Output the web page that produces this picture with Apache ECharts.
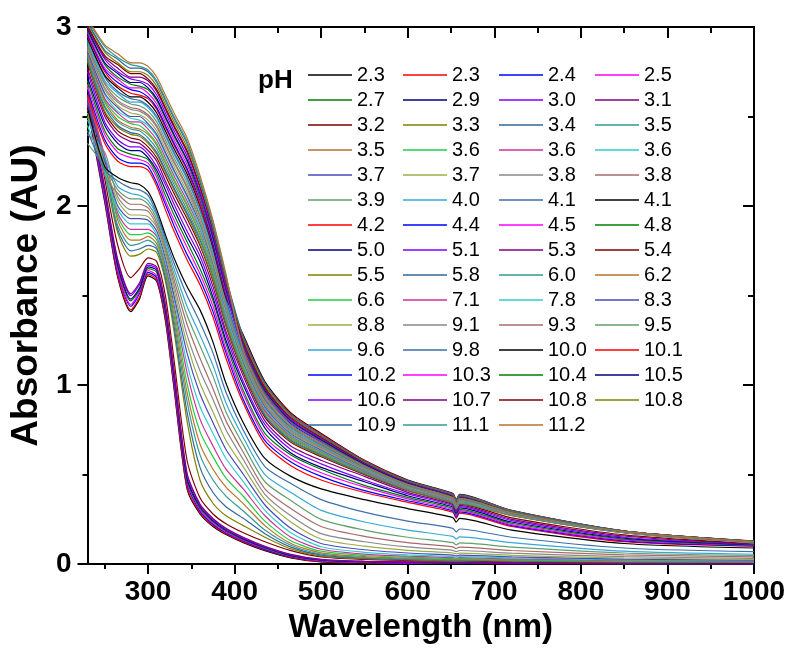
<!DOCTYPE html>
<html><head><meta charset="utf-8">
<script src="https://cdn.jsdelivr.net/npm/echarts@6/dist/echarts.min.js"></script>
<style>html,body{margin:0;padding:0;background:#fff}#c{width:792px;height:649px}</style>
</head><body><div id="c"></div><script>
const wavelength = [230,250,265,280,290,300,310,320,330,345,360,375,390,410,435,465,500,550,600,652,656,660,720,850,1000];
const pHLabels = ['2.3','2.3','2.4','2.5','2.7','2.9','3.0','3.1','3.2','3.3','3.4','3.5','3.5','3.6','3.6','3.6','3.7','3.7','3.8','3.8','3.9','4.0','4.1','4.1','4.2','4.4','4.5','4.8','5.0','5.1','5.3','5.4','5.5','5.8','6.0','6.2','6.6','7.1','7.8','8.3','8.8','9.1','9.3','9.5','9.6','9.8','10.0','10.1','10.2','10.3','10.4','10.5','10.6','10.7','10.8','10.8','10.9','11.1','11.2'];
const palette = ['#000000','#FF0000','#0000FF','#FF00FF','#008000','#000080','#8000FF','#800080','#800000','#808000','#336699','#339999','#B8732A','#22CC44','#CC3399','#33CCCC','#4B4BB8','#9CAC4B','#888888','#A86B6B','#639E6E','#36A8D6','#3D6FA8'];
const xMajorTicks = [300,400,500,600,700,800,900,1000];
const xMinorTicks = [250,350,450,550,650,750,850,950];

const spec00 = [2.55,2.02,1.60,1.41,1.48,1.61,1.58,1.36,0.98,0.42,0.28,0.21,0.165,0.12,0.075,0.035,0.012,0.006,0.004,0.003,0.003,0.003,0.002,0.001,0];
const spec01 = [2.56,2.03,1.61,1.42,1.49,1.62,1.59,1.37,0.99,0.43,0.288,0.216,0.17,0.124,0.079,0.038,0.014,0.007,0.005,0.004,0.004,0.004,0.003,0.002,0.001];
const spec02 = [2.57,2.04,1.63,1.44,1.51,1.63,1.60,1.39,1.01,0.45,0.296,0.223,0.175,0.129,0.082,0.041,0.016,0.009,0.006,0.005,0.005,0.005,0.003,0.002,0.001];
const spec03 = [2.58,2.05,1.64,1.45,1.52,1.64,1.61,1.40,1.02,0.46,0.304,0.229,0.18,0.133,0.086,0.044,0.018,0.010,0.007,0.006,0.006,0.006,0.004,0.003,0.002];
const spec04 = [2.59,2.07,1.66,1.47,1.53,1.65,1.63,1.41,1.04,0.47,0.312,0.236,0.185,0.137,0.089,0.046,0.021,0.012,0.009,0.006,0.006,0.006,0.005,0.003,0.002];
const spec05 = [2.60,2.08,1.67,1.48,1.54,1.66,1.64,1.42,1.05,0.48,0.32,0.242,0.19,0.141,0.093,0.049,0.023,0.013,0.010,0.007,0.007,0.007,0.006,0.004,0.003];
const spec06 = [2.61,2.09,1.69,1.50,1.56,1.67,1.65,1.44,1.07,0.50,0.328,0.249,0.195,0.146,0.096,0.052,0.025,0.015,0.011,0.008,0.008,0.008,0.006,0.004,0.003];
const spec07 = [2.62,2.10,1.70,1.51,1.57,1.68,1.66,1.45,1.08,0.51,0.335,0.255,0.20,0.15,0.10,0.055,0.027,0.016,0.012,0.009,0.009,0.009,0.007,0.005,0.004];
const spec08 = [2.66,2.15,1.78,1.60,1.65,1.71,1.69,1.50,1.14,0.58,0.37,0.28,0.225,0.175,0.125,0.075,0.04,0.026,0.02,0.016,0.016,0.016,0.013,0.009,0.007];
const spec09 = [2.68,2.20,1.85,1.72,1.73,1.76,1.74,1.58,1.30,0.80,0.47,0.34,0.27,0.215,0.15,0.085,0.045,0.03,0.024,0.02,0.019,0.02,0.017,0.012,0.01];
const spec10 = [2.62,2.24,1.87,1.75,1.76,1.78,1.76,1.60,1.33,0.85,0.54,0.40,0.32,0.256,0.17,0.095,0.05,0.033,0.026,0.022,0.021,0.022,0.018,0.013,0.011];
const spec11 = [2.55,2.18,1.89,1.78,1.79,1.81,1.77,1.62,1.36,0.91,0.61,0.47,0.38,0.297,0.19,0.105,0.056,0.037,0.029,0.024,0.023,0.024,0.02,0.014,0.012];
const spec12 = [2.66,2.26,1.92,1.81,1.81,1.83,1.79,1.64,1.39,0.96,0.67,0.53,0.43,0.338,0.215,0.115,0.063,0.042,0.033,0.027,0.026,0.027,0.022,0.016,0.013];
const spec13 = [2.50,2.21,1.94,1.84,1.84,1.85,1.81,1.65,1.42,1.01,0.74,0.60,0.48,0.379,0.24,0.13,0.072,0.048,0.038,0.031,0.029,0.031,0.025,0.018,0.015];
const spec14 = [2.60,2.28,1.96,1.87,1.87,1.87,1.83,1.67,1.45,1.07,0.81,0.66,0.53,0.42,0.27,0.15,0.083,0.056,0.044,0.036,0.034,0.036,0.029,0.021,0.017];
const spec15 = [2.45,2.19,1.98,1.90,1.90,1.90,1.84,1.69,1.48,1.12,0.88,0.73,0.59,0.461,0.30,0.175,0.097,0.066,0.052,0.042,0.039,0.042,0.034,0.024,0.019];
const spec16 = [2.58,2.25,2.00,1.93,1.93,1.92,1.86,1.71,1.50,1.18,0.95,0.79,0.64,0.502,0.33,0.20,0.115,0.08,0.062,0.05,0.046,0.05,0.04,0.028,0.022];
const spec17 = [2.52,2.23,2.03,1.95,1.95,1.94,1.88,1.73,1.53,1.23,1.01,0.85,0.69,0.543,0.36,0.235,0.14,0.10,0.077,0.062,0.057,0.061,0.049,0.034,0.026];
const spec18 = [2.40,2.30,2.05,1.98,1.98,1.97,1.89,1.75,1.56,1.28,1.08,0.92,0.75,0.584,0.39,0.27,0.17,0.125,0.096,0.077,0.07,0.076,0.061,0.042,0.032];
const spec19 = [2.55,2.17,2.07,2.01,2.01,1.99,1.91,1.77,1.59,1.34,1.15,0.98,0.80,0.625,0.42,0.31,0.21,0.155,0.12,0.096,0.087,0.095,0.076,0.052,0.04];
const spec20 = [2.35,2.22,2.09,2.04,2.04,2.01,1.93,1.78,1.62,1.39,1.22,1.05,0.85,0.666,0.46,0.355,0.25,0.19,0.15,0.12,0.108,0.118,0.095,0.062,0.048];
const spec21 = [2.48,2.27,2.11,2.07,2.06,2.03,1.95,1.80,1.65,1.44,1.28,1.11,0.90,0.707,0.50,0.40,0.30,0.235,0.19,0.155,0.14,0.152,0.12,0.072,0.055];
const spec22 = [2.42,2.20,2.14,2.10,2.09,2.06,1.96,1.82,1.68,1.50,1.35,1.18,0.96,0.748,0.545,0.45,0.36,0.29,0.24,0.20,0.18,0.196,0.15,0.09,0.07];
const spec23 = [2.55,2.22,2.16,2.13,2.12,2.08,1.98,1.84,1.71,1.55,1.42,1.24,1.01,0.79,0.59,0.49,0.42,0.36,0.31,0.26,0.235,0.255,0.19,0.115,0.09];
const spec24 = [2.62,2.35,2.25,2.22,2.22,2.20,2.11,1.98,1.86,1.70,1.56,1.38,1.15,0.90,0.67,0.55,0.47,0.40,0.345,0.29,0.255,0.285,0.21,0.125,0.10];
const spec25 = [2.65,2.37,2.27,2.24,2.24,2.22,2.13,2.01,1.89,1.73,1.59,1.41,1.18,0.92,0.69,0.57,0.49,0.41,0.354,0.297,0.262,0.292,0.215,0.13,0.102];
const spec26 = [2.67,2.40,2.30,2.27,2.26,2.24,2.16,2.03,1.92,1.77,1.62,1.44,1.20,0.95,0.71,0.59,0.51,0.43,0.364,0.304,0.269,0.299,0.22,0.135,0.104];
const spec27 = [2.70,2.42,2.32,2.29,2.28,2.26,2.18,2.06,1.95,1.80,1.65,1.47,1.23,0.97,0.73,0.61,0.53,0.44,0.373,0.311,0.276,0.306,0.228,0.14,0.106];
const spec28 = [2.72,2.45,2.35,2.31,2.31,2.27,2.20,2.09,1.98,1.83,1.69,1.49,1.25,1.00,0.76,0.62,0.54,0.46,0.382,0.319,0.284,0.314,0.235,0.145,0.108];
const spec29 = [2.75,2.47,2.37,2.33,2.33,2.29,2.22,2.12,2.01,1.86,1.72,1.52,1.28,1.02,0.78,0.64,0.56,0.47,0.392,0.326,0.291,0.321,0.243,0.15,0.11];
const spec30 = [2.77,2.50,2.40,2.36,2.35,2.31,2.25,2.14,2.04,1.90,1.75,1.55,1.30,1.05,0.80,0.66,0.58,0.49,0.401,0.333,0.298,0.328,0.25,0.157,0.112];
const spec31 = [2.80,2.52,2.42,2.38,2.37,2.33,2.27,2.17,2.07,1.93,1.78,1.58,1.33,1.07,0.82,0.68,0.60,0.50,0.41,0.34,0.305,0.335,0.258,0.163,0.114];
const spec32 = [2.81,2.53,2.44,2.40,2.39,2.35,2.29,2.19,2.09,1.95,1.79,1.59,1.34,1.08,0.83,0.686,0.605,0.503,0.412,0.342,0.307,0.337,0.271,0.175,0.118];
const spec33 = [2.82,2.55,2.45,2.41,2.40,2.36,2.30,2.20,2.10,1.96,1.81,1.61,1.35,1.09,0.83,0.692,0.61,0.506,0.414,0.344,0.309,0.339,0.272,0.176,0.119];
const spec34 = [2.83,2.56,2.47,2.43,2.42,2.38,2.32,2.22,2.12,1.98,1.82,1.62,1.36,1.09,0.84,0.698,0.614,0.509,0.417,0.346,0.311,0.341,0.273,0.176,0.119];
const spec35 = [2.84,2.58,2.48,2.44,2.43,2.40,2.34,2.24,2.14,2.00,1.84,1.63,1.37,1.10,0.85,0.704,0.619,0.512,0.419,0.348,0.313,0.343,0.274,0.177,0.12];
const spec36 = [2.85,2.59,2.50,2.46,2.45,2.41,2.35,2.25,2.15,2.01,1.85,1.64,1.38,1.11,0.86,0.71,0.624,0.515,0.421,0.35,0.315,0.345,0.276,0.177,0.12];
const spec37 = [2.86,2.60,2.52,2.47,2.47,2.43,2.37,2.27,2.17,2.03,1.87,1.66,1.39,1.12,0.86,0.717,0.629,0.518,0.423,0.352,0.317,0.347,0.277,0.177,0.12];
const spec38 = [2.87,2.62,2.53,2.49,2.48,2.45,2.39,2.29,2.19,2.05,1.88,1.67,1.40,1.12,0.87,0.723,0.634,0.521,0.425,0.354,0.319,0.349,0.278,0.178,0.121];
const spec39 = [2.87,2.63,2.55,2.50,2.50,2.46,2.40,2.30,2.20,2.06,1.90,1.68,1.42,1.13,0.88,0.729,0.638,0.524,0.428,0.356,0.321,0.351,0.279,0.178,0.121];
const spec40 = [2.88,2.65,2.56,2.52,2.51,2.48,2.42,2.32,2.22,2.08,1.91,1.69,1.43,1.14,0.89,0.735,0.643,0.527,0.43,0.358,0.323,0.353,0.28,0.179,0.122];
const spec41 = [2.89,2.66,2.58,2.54,2.53,2.50,2.44,2.34,2.24,2.10,1.92,1.71,1.44,1.15,0.89,0.741,0.648,0.53,0.432,0.36,0.325,0.355,0.281,0.179,0.122];
const spec42 = [2.90,2.68,2.59,2.55,2.54,2.51,2.45,2.35,2.25,2.11,1.94,1.72,1.45,1.16,0.90,0.747,0.653,0.533,0.434,0.362,0.327,0.357,0.282,0.179,0.122];
const spec43 = [2.91,2.69,2.61,2.57,2.56,2.53,2.47,2.37,2.27,2.13,1.95,1.73,1.46,1.16,0.91,0.753,0.658,0.536,0.436,0.364,0.329,0.359,0.283,0.18,0.123];
const spec44 = [2.92,2.70,2.63,2.58,2.58,2.55,2.49,2.39,2.29,2.15,1.97,1.74,1.47,1.17,0.92,0.759,0.662,0.539,0.439,0.366,0.331,0.361,0.284,0.18,0.123];
const spec45 = [2.93,2.72,2.64,2.60,2.59,2.56,2.50,2.40,2.30,2.16,1.98,1.76,1.48,1.18,0.92,0.765,0.667,0.542,0.441,0.368,0.333,0.363,0.285,0.181,0.124];
const spec46 = [2.94,2.73,2.66,2.61,2.61,2.58,2.52,2.42,2.32,2.18,2.00,1.77,1.49,1.28,1.02,0.845,0.73,0.58,0.47,0.395,0.36,0.39,0.30,0.185,0.13];
const spec47 = [2.95,2.75,2.67,2.63,2.62,2.60,2.54,2.44,2.34,2.20,2.01,1.78,1.50,1.27,1.01,0.839,0.725,0.578,0.467,0.392,0.357,0.387,0.299,0.185,0.129];
const spec48 = [2.96,2.76,2.69,2.65,2.64,2.61,2.55,2.45,2.35,2.21,2.03,1.79,1.51,1.20,0.95,0.784,0.682,0.551,0.447,0.374,0.339,0.369,0.289,0.182,0.125];
const spec49 = [2.97,2.77,2.71,2.66,2.66,2.63,2.57,2.47,2.37,2.23,2.04,1.81,1.52,1.21,0.95,0.79,0.686,0.554,0.45,0.376,0.341,0.371,0.29,0.182,0.125];
const spec50 = [2.98,2.79,2.72,2.68,2.67,2.65,2.59,2.49,2.39,2.25,2.05,1.82,1.53,1.22,0.96,0.796,0.691,0.557,0.452,0.378,0.343,0.373,0.291,0.183,0.126];
const spec51 = [2.99,2.80,2.74,2.69,2.69,2.66,2.60,2.50,2.40,2.26,2.07,1.83,1.54,1.23,0.97,0.802,0.696,0.56,0.454,0.38,0.345,0.375,0.292,0.183,0.126];
const spec52 = [3.00,2.82,2.75,2.71,2.70,2.68,2.62,2.52,2.42,2.28,2.08,1.84,1.55,1.23,0.98,0.808,0.701,0.563,0.456,0.382,0.347,0.377,0.293,0.183,0.126];
const spec53 = [3.00,2.83,2.77,2.72,2.72,2.70,2.64,2.54,2.44,2.30,2.10,1.86,1.57,1.24,0.98,0.814,0.706,0.566,0.458,0.384,0.349,0.379,0.294,0.184,0.127];
const spec54 = [3.01,2.84,2.79,2.74,2.74,2.71,2.65,2.55,2.45,2.31,2.11,1.87,1.58,1.25,0.99,0.82,0.71,0.569,0.461,0.386,0.351,0.381,0.295,0.184,0.127];
const spec55 = [3.02,2.86,2.80,2.75,2.75,2.73,2.67,2.57,2.47,2.33,2.13,1.88,1.59,1.26,1.00,0.826,0.715,0.572,0.463,0.388,0.353,0.383,0.296,0.185,0.128];
const spec56 = [3.03,2.87,2.82,2.77,2.77,2.75,2.69,2.59,2.49,2.35,2.14,1.89,1.60,1.27,1.01,0.833,0.72,0.575,0.465,0.39,0.355,0.385,0.298,0.185,0.128];
const spec57 = [3.04,2.89,2.83,2.79,2.78,2.76,2.70,2.60,2.50,2.36,2.15,1.91,1.61,1.19,0.94,0.778,0.677,0.548,0.445,0.372,0.337,0.367,0.288,0.181,0.124];
const spec58 = [3.05,2.90,2.85,2.80,2.80,2.78,2.72,2.62,2.52,2.38,2.17,1.92,1.62,1.19,0.93,0.771,0.672,0.545,0.443,0.37,0.335,0.365,0.287,0.181,0.124];

const spectra = [spec00,spec01,spec02,spec03,spec04,spec05,spec06,spec07,spec08,spec09,spec10,spec11,spec12,spec13,spec14,spec15,spec16,spec17,spec18,spec19,spec20,spec21,spec22,spec23,spec24,spec25,spec26,spec27,spec28,spec29,spec30,spec31,spec32,spec33,spec34,spec35,spec36,spec37,spec38,spec39,spec40,spec41,spec42,spec43,spec44,spec45,spec46,spec47,spec48,spec49,spec50,spec51,spec52,spec53,spec54,spec55,spec56,spec57,spec58];

const FONT = '"Liberation Sans", Arial, Helvetica, sans-serif';
const names = pHLabels.map((p, i) => p + '#' + i);

const series = spectra.map((row, i) => ({
  type: 'line',
  name: names[i],
  data: wavelength.map((w, j) => [w, row[j]]),
  showSymbol: false,
  symbol: 'none',
  smooth: 0.25,
  color: palette[i % 23],
  lineStyle: { width: 1.2, color: palette[i % 23] },
  itemStyle: { color: palette[i % 23] },
  silent: true,
  animation: false
}));

const legendLefts = [308, 403, 499, 595];
const legends = legendLefts.map((left, c) => ({
  orient: 'vertical',
  left: left,
  top: 65,
  padding: 0,
  itemWidth: 44,
  itemHeight: 1.6,
  itemGap: 5,
  icon: 'rect',
  selectedMode: false,
  data: names.filter((n, i) => i % 4 === c),
  formatter: (n) => n.split('#')[0],
  textStyle: { fontSize: 20, color: '#000', fontFamily: FONT, lineHeight: 20 }
}));

const axisLineStyle = { color: '#000', width: 2 };
const boldLabel = { fontSize: 28, fontWeight: 'bold', color: '#000', fontFamily: FONT };

const option = {
  animation: false,
  backgroundColor: '#fff',
  grid: { left: 85, right: 38, top: 27, bottom: 83, containLabel: false },
  legend: legends,
  graphic: [{
    type: 'text', left: 258, top: 68,
    style: { text: 'pH', font: 'bold 26px ' + FONT, fill: '#000' }
  }],
  xAxis: [
    {
      type: 'value', min: 230, max: 1000, position: 'bottom',
      axisLine: { lineStyle: axisLineStyle },
      axisTick: { show: true, customValues: xMajorTicks, length: 10, lineStyle: axisLineStyle },
      axisLabel: { customValues: xMajorTicks, margin: 14, formatter: (v) => String(v), ...boldLabel },
      splitLine: { show: false },
      name: 'Wavelength (nm)', nameLocation: 'middle', nameGap: 42,
      nameTextStyle: { fontSize: 33, fontWeight: 'bold', color: '#000', fontFamily: FONT }
    },
    {
      type: 'value', min: 230, max: 1000, position: 'bottom',
      axisLine: { show: false },
      axisTick: { show: true, customValues: xMinorTicks, length: 5, lineStyle: axisLineStyle },
      axisLabel: { show: false }, splitLine: { show: false }
    },
    {
      type: 'value', min: 230, max: 1000, position: 'top',
      axisLine: { lineStyle: axisLineStyle },
      axisTick: { show: true, inside: true, customValues: xMajorTicks, length: 11, lineStyle: axisLineStyle },
      axisLabel: { show: false }, splitLine: { show: false }
    },
    {
      type: 'value', min: 230, max: 1000, position: 'top',
      axisLine: { show: false },
      axisTick: { show: true, inside: true, customValues: xMinorTicks, length: 6, lineStyle: axisLineStyle },
      axisLabel: { show: false }, splitLine: { show: false }
    }
  ],
  yAxis: [
    {
      type: 'value', min: 0, max: 3, interval: 1, position: 'left',
      axisLine: { show: true, lineStyle: axisLineStyle },
      axisTick: { show: true, length: 10, lineStyle: axisLineStyle },
      minorTick: { show: true, splitNumber: 2, length: 5, lineStyle: axisLineStyle },
      axisLabel: { margin: 16, ...boldLabel },
      splitLine: { show: false }, minorSplitLine: { show: false },
      name: 'Absorbance (AU)', nameLocation: 'middle', nameGap: 40, nameRotate: 90,
      nameTextStyle: { fontSize: 37, fontWeight: 'bold', color: '#000', fontFamily: FONT }
    },
    {
      type: 'value', min: 0, max: 3, interval: 1, position: 'right',
      axisLine: { show: true, lineStyle: axisLineStyle },
      axisTick: { show: true, inside: true, length: 11, lineStyle: axisLineStyle },
      minorTick: { show: true, splitNumber: 2, length: 6, lineStyle: axisLineStyle },
      axisLabel: { show: false },
      splitLine: { show: false }, minorSplitLine: { show: false }
    }
  ],
  series: series
};

const chart = echarts.init(document.getElementById('c'), null, { renderer: 'canvas' });
chart.setOption(option);
</script></body></html>
